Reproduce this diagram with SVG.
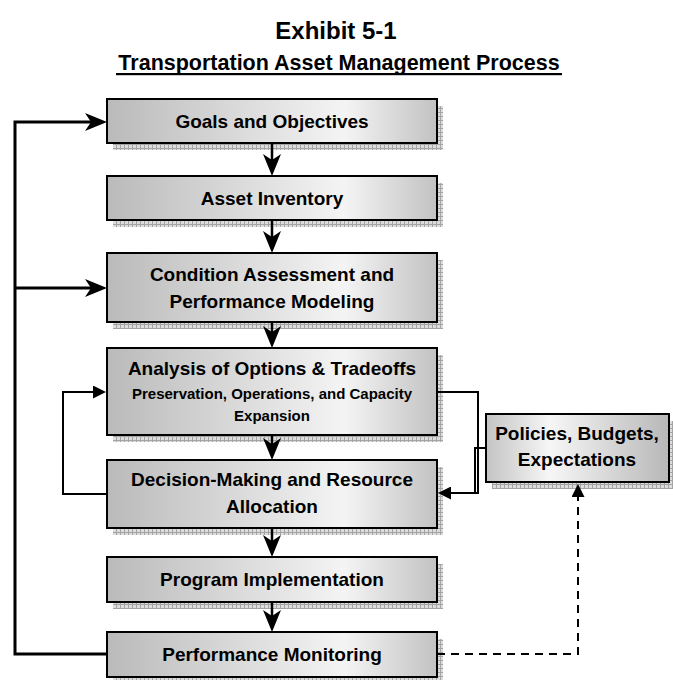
<svg xmlns="http://www.w3.org/2000/svg" width="673" height="680" viewBox="0 0 673 680">
<style>
text{font-family:"Liberation Sans",Arial,sans-serif;font-weight:bold;fill:#000;text-anchor:middle}
.t{font-size:19px}
.s{font-size:15px}
.box{fill:url(#g);stroke:#000;stroke-width:2}
.pbox{fill:url(#g2);stroke:#000;stroke-width:2}
.sh{fill:url(#hatch)}
.thick{fill:none;stroke:#000;stroke-width:3}
.mid{fill:none;stroke:#000;stroke-width:2.5}
.thin{fill:none;stroke:#000;stroke-width:2}
.dash{fill:none;stroke:#000;stroke-width:2;stroke-dasharray:8 6}
</style>
<defs>
<linearGradient id="g" x1="0" y1="0" x2="1" y2="0">
<stop offset="0" stop-color="#bababa"/>
<stop offset="0.72" stop-color="#f4f4f4"/>
<stop offset="1" stop-color="#c2c2c2"/>
</linearGradient>
<linearGradient id="g2" x1="0" y1="0" x2="1" y2="0">
<stop offset="0" stop-color="#c4c4c4"/>
<stop offset="0.35" stop-color="#f6f6f6"/>
<stop offset="1" stop-color="#b8b8b8"/>
</linearGradient>
<pattern id="hatch" patternUnits="userSpaceOnUse" width="4" height="4">
<rect width="4" height="4" fill="#dcdcdc"/>
<path d="M0,0.5H4M0.5,0V4" stroke="#a4a4a4" stroke-width="1"/>
</pattern>
<marker id="big" markerUnits="userSpaceOnUse" markerWidth="22" markerHeight="18" viewBox="0 0 22 18" refX="12" refY="9" orient="auto">
<path d="M0,0 L22,9 L0,18 L6,9 z" fill="#000"/>
</marker>
<marker id="small" markerUnits="userSpaceOnUse" markerWidth="13" markerHeight="13" viewBox="0 0 13 13" refX="7" refY="6.5" orient="auto">
<path d="M0,0 L13,6.5 L0,13 z" fill="#000"/>
</marker>
</defs>
<rect width="673" height="680" fill="#fff"/>
<g id="title">
<text x="336" y="39" style="font-size:24px">Exhibit 5-1</text>
<text x="339" y="70" style="font-size:21.5px">Transportation Asset Management Process</text>
<rect x="116" y="73" width="446" height="2.2" fill="#000"/>
</g>
<g id="goals">
<rect class="sh" x="113" y="106" width="330" height="44"/>
<rect class="box" x="107" y="99" width="330" height="44"/>
<text class="t" x="272" y="128">Goals and Objectives</text>
</g>
<g id="asset">
<rect class="sh" x="113" y="183" width="330" height="44"/>
<rect class="box" x="107" y="176" width="330" height="44"/>
<text class="t" x="272" y="205">Asset Inventory</text>
</g>
<g id="condition">
<rect class="sh" x="113" y="260" width="330" height="69"/>
<rect class="box" x="107" y="253" width="330" height="69"/>
<text class="t" x="272" y="281">Condition Assessment and</text>
<text class="t" x="272" y="308">Performance Modeling</text>
</g>
<g id="analysis">
<rect class="sh" x="113" y="355" width="330" height="87"/>
<rect class="box" x="107" y="348" width="330" height="87"/>
<text class="t" x="272" y="375">Analysis of Options &amp; Tradeoffs</text>
<text class="s" x="272" y="399">Preservation, Operations, and Capacity</text>
<text class="s" x="272" y="421">Expansion</text>
</g>
<g id="decision">
<rect class="sh" x="113" y="467" width="330" height="68"/>
<rect class="box" x="107" y="460" width="330" height="68"/>
<text class="t" x="272" y="486">Decision-Making and Resource</text>
<text class="t" x="272" y="513">Allocation</text>
</g>
<g id="program">
<rect class="sh" x="113" y="564" width="330" height="45"/>
<rect class="box" x="107" y="557" width="330" height="45"/>
<text class="t" x="272" y="586">Program Implementation</text>
</g>
<g id="monitoring">
<rect class="sh" x="113" y="639" width="330" height="45"/>
<rect class="box" x="107" y="632" width="330" height="45"/>
<text class="t" x="272" y="661">Performance Monitoring</text>
</g>
<g id="policies">
<rect class="sh" x="492" y="421" width="183" height="68"/>
<rect class="pbox" x="486" y="414" width="183" height="68"/>
<text class="t" x="577" y="440">Policies, Budgets,</text>
<text class="t" x="577" y="466">Expectations</text>
</g>
<g id="connectors">
<path class="thick" d="M107,654 H15 V122 H97" marker-end="url(#big)"/>
<path class="thick" d="M15,288 H97" marker-end="url(#big)"/>
<path class="mid" d="M272,143 V166" marker-end="url(#big)"/>
<path class="mid" d="M272,220 V243" marker-end="url(#big)"/>
<path class="mid" d="M272,322 V338" marker-end="url(#big)"/>
<path class="mid" d="M272,435 V450" marker-end="url(#big)"/>
<path class="mid" d="M272,528 V547" marker-end="url(#big)"/>
<path class="mid" d="M272,602 V622" marker-end="url(#big)"/>
<path class="thin" d="M107,494 H63 V392 H100" marker-end="url(#small)"/>
<path class="thin" d="M437,392 H478 V493 H444" marker-end="url(#small)"/>
<path class="thin" d="M486,448 H475 V493"/>
<path class="dash" d="M437,654 H578 V490" marker-end="url(#small)"/>
</g>
</svg>
